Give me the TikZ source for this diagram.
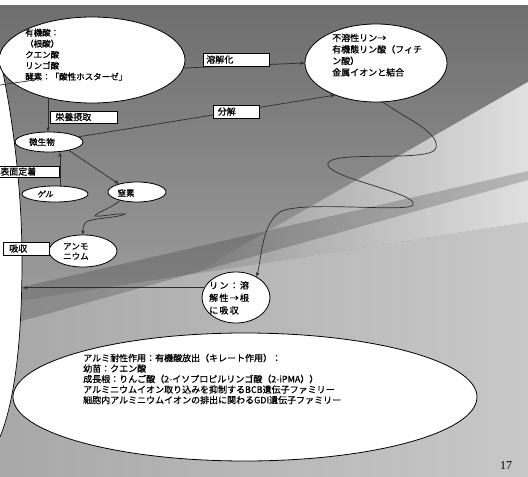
\documentclass[tikz,border=0pt]{standalone}
\usepackage{fontspec}
\setmainfont{Noto Sans CJK JP}[FakeBold=0.8]
\newfontfamily\jpslant[FakeSlant=0.2,FakeBold=0.8]{Noto Sans CJK JP}
\newfontfamily\jpls[LetterSpace=14,FakeBold=0.8]{Noto Sans CJK JP}
\newfontfamily\numfont{Liberation Serif}
\usetikzlibrary{arrows.meta,shapes.geometric}
\definecolor{bgtop}{HTML}{6E6E6E}
\definecolor{bgbot}{HTML}{B8B8B8}
\definecolor{lowL}{HTML}{A8A8A8}
\definecolor{lowR}{HTML}{C8C8C8}
\definecolor{bandL}{HTML}{999999}
\definecolor{bandR}{HTML}{E0E0E0}
\definecolor{ln}{HTML}{2E2E2E}
\begin{document}
\begin{tikzpicture}[x=1pt,y=-1pt,
  bub/.style={ellipse, draw=black, fill=white, line width=0.8pt, inner sep=0pt},
  lbl/.style={rectangle, draw=black, fill=white, line width=0.6pt, inner ysep=0pt, align=left, anchor=west, font=\fontsize{9}{10}\selectfont},
  txt/.style={inner sep=0pt, align=left, anchor=north west},
  con/.style={draw=ln, line width=0.7pt},
  arr/.style={con, -{Stealth[length=4.5pt,width=3.5pt]}}
]
\useasboundingbox (0,0) rectangle (528,477);
% background
\fill[white] (0,0) rectangle (528,477);
\shade[top color=bgtop, bottom color=bgbot] (0,5) rectangle (528,477);
\shade[left color=lowL, right color=lowR] (528,222) -- (0,304) -- (0,477) -- (528,477) -- cycle;
\shade[left color=bandL, right color=bandR] (528,82) -- (193,274) -- (528,222) -- cycle;
\fill[black, opacity=0.18] (528,171) -- (528,180) -- (0,327) -- (0,292) -- cycle;
% root
\fill[white] (-2,50) .. controls (10,100) and (22,180) .. (22,260) .. controls (22,340) and (15,400) .. (0,437) -- (-2,437) -- cycle;
\draw[line width=0.7pt] (-2,50) .. controls (10,100) and (22,180) .. (22,260) .. controls (22,340) and (15,400) .. (0,437);
\coordinate (rootP) at (23,289);
\coordinate (rootT) at (0,85);
\coordinate (oaIn) at (35,80);
% bubbles
\node[bub, minimum width=186pt, minimum height=86pt] (oa) at (92,60) {};
\node[bub, minimum width=142pt, minimum height=78pt] (pr) at (376,63) {};
\node[bub, minimum width=68pt, minimum height=20pt] (mb) at (49,142) {};
\node[bub, minimum width=66pt, minimum height=16pt] (gel) at (55,194) {};
\node[bub, minimum width=58pt, minimum height=20pt] (ni) at (137,192) {};
\node[bub, minimum width=68pt, minimum height=32pt] (am) at (83,251) {};
\node[bub, minimum width=68pt, minimum height=51pt] (pl) at (236,297.5) {};
\node[bub, minimum width=464pt, minimum height=128pt] (al) at (245,397) {};
% texts
\node[txt, font=\fontsize{8.5}{11}\selectfont] (oaT) at (25,28.5) {有機酸：\\（根酸）\\クエン酸\\リンゴ酸\\酵素：「酸性ホスターゼ」};
\node[txt, font=\fontsize{9}{11.5}\selectfont] (prT) at (332,33.5) {不溶性リン→\\有機態リン酸（フィチ\\ン酸）\\金属イオンと結合};
\node[inner sep=0pt, font=\fontsize{8.5}{10}\selectfont] (mbT) at (42,142) {微生物};
\node[inner sep=0pt, font=\jpslant\fontsize{8}{10}\selectfont] (gelT) at (45,194) {ゲル};
\node[inner sep=0pt, font=\fontsize{8.5}{10}\selectfont] (niT) at (126,193) {窒素};
\node[txt, font=\fontsize{8.5}{10}\selectfont] (amT) at (63,243) {アンモ\\ニウム};
\node[txt, font=\jpls\fontsize{9}{12.5}\selectfont] (plT) at (209,281) {リン：溶\\解性→根\\に吸収};
\node[txt, font=\fontsize{9}{10.5}\selectfont] (alT) at (83,353.5) {アルミ耐性作用：有機酸放出（キレート作用）：\\幼苗：クエン酸\\成長根：りんご酸（2-イソプロピルリンゴ酸（2-iPMA））\\アルミニウムイオン取り込みを抑制するBCB遺伝子ファミリー\\細胞内アルミニウムイオンの排出に関わるGDI遺伝子ファミリー};
% connectors
\coordinate (gelTop) at ([xshift=5pt]gel.north);
\draw[arr] (oa.-5) -- (pr.west);
\draw[arr] (mb.10) -- (pr.218);
\draw[arr] (oa.221) -- (oa.221 |- mb.north);
\draw[arr] (gelTop) -- (gelTop |- mb.south);
\draw[arr] (mb.-23) -- (ni.156);
\draw[arr] (ni.207) .. controls (108,210) and (97,212) .. (95,216) .. controls (100,217) and (118,213) .. (125,214) .. controls (118,218) and (92,218) .. (86,222) .. controls (83,225) and (83,229) .. (am.north);
\draw[arr] (pr.-80) .. controls (405,118) and (440,132) .. (436,148) .. controls (432,163) and (335,150) .. (328,163) .. controls (322,177) and (420,193) .. (413,205) .. controls (408,213) and (300,200) .. (280,212) .. controls (262,224) and (262,255) .. (pl.45);
\draw[arr] (pl.163) -- (pl.163 -| rootP);
\draw[con, -{Stealth[length=3pt,width=2.5pt]}] (rootT) -- (oaIn);
% label boxes
\node[lbl, text width=60pt, inner xsep=3pt, minimum height=13pt] (bSol) at (203,59.5) {溶解化};
\node[lbl, text width=37pt, inner xsep=4.5pt, minimum height=13pt] (bDec) at (213,111.5) {分解};
\node[lbl, text width=57pt, inner xsep=5pt, minimum height=12pt] (bNut) at (50,117) {栄養摂取};
\node[lbl, text width=56pt, inner xsep=3pt, minimum height=11pt] (bSurf) at (-3,171.5) {表面定着};
\node[lbl, text width=34pt, inner xsep=6pt, minimum height=13pt] (bAbs) at (3,248.5) {吸収};
% page number
\node[font=\numfont\fontsize{12}{12}\selectfont, inner sep=0pt] (pg) at (506,466) {17};
\end{tikzpicture}
\end{document}
